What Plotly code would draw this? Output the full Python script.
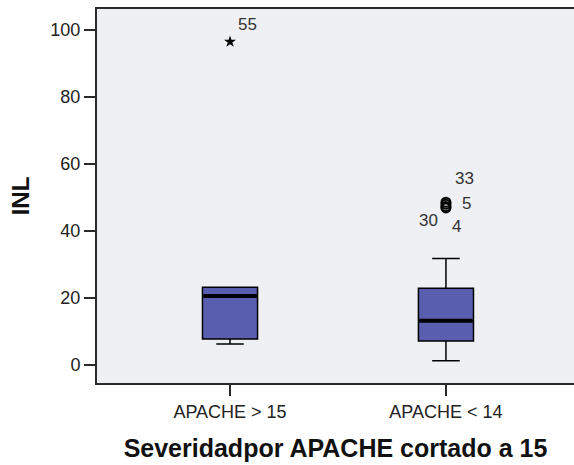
import plotly.graph_objects as go

# Summary statistics of INL by APACHE severity group
groups = ["APACHE > 15", "APACHE < 14"]
q1 = [7.8, 7.2]
median = [20.6, 13.2]
q3 = [23.2, 22.9]
lower_whisker = [6.3, 1.3]
upper_whisker = [23.2, 31.8]

# Extreme value (star) in the first group
extreme_group = [0]
extreme_value = [96.5]
extreme_case = ["55"]

# Outliers (open circles) in the second group
outlier_group = [1, 1, 1, 1]
outlier_value = [48.6, 48.0, 47.3, 46.9]
outlier_case = ["33", "5", "30", "4"]

# Label offsets (pixels) for the case numbers
extreme_shift = [(17, 17)]
outlier_shift = [(19, 24), (21, 1), (-17, -14), (11, -19)]

BOX_W = 0.255
FILL = "#5a5eae"
BG = "#eff0f3"
AX = "#2a2a2a"
FONT = "Arial, Liberation Sans, sans-serif"

fig = go.Figure()

for i, g in enumerate(groups):
    fig.add_trace(go.Box(
        x=[i], q1=[q1[i]], median=[median[i]], q3=[q3[i]],
        lowerfence=[lower_whisker[i]], upperfence=[upper_whisker[i]],
        width=BOX_W, whiskerwidth=0.5, fillcolor=FILL,
        line=dict(color="black", width=1.5), boxpoints=False,
        hoverinfo="skip", showlegend=False,
    ))
    # thick median bar
    fig.add_trace(go.Scatter(
        x=[i - BOX_W / 2 + 0.004, i + BOX_W / 2 - 0.004],
        y=[median[i], median[i]], mode="lines",
        line=dict(color="black", width=4), hoverinfo="skip", showlegend=False,
    ))

fig.add_trace(go.Scatter(
    x=extreme_group, y=extreme_value, mode="markers",
    marker=dict(symbol="star", size=9, color="black"),
    hoverinfo="skip", showlegend=False,
))
fig.add_trace(go.Scatter(
    x=outlier_group, y=outlier_value, mode="markers",
    marker=dict(symbol="circle-open", size=9, color="black", line=dict(width=2)),
    hoverinfo="skip", showlegend=False,
))

label_font = dict(family=FONT, size=17, color="#333")
for xg, yv, txt, (dx, dy) in zip(extreme_group + outlier_group,
                                  extreme_value + outlier_value,
                                  extreme_case + outlier_case,
                                  extreme_shift + outlier_shift):
    fig.add_annotation(x=xg, y=yv, text=txt, showarrow=False,
                       xshift=dx, yshift=dy, font=label_font)

fig.update_layout(
    width=574, height=465,
    margin=dict(l=97, r=0, t=9, b=82),
    paper_bgcolor="white", plot_bgcolor=BG,
    font=dict(family=FONT, color="#222"),
)
fig.update_xaxes(
    range=[-0.616, 1.593], tickvals=[0, 1], ticktext=groups,
    showgrid=False, zeroline=False, automargin=False,
    showline=True, linecolor=AX, linewidth=2, mirror=True,
    ticks="outside", ticklen=11, tickwidth=1.5, tickcolor=AX,
    tickfont=dict(size=18, color="#222"),
    title=dict(text="<b>Severidadpor APACHE cortado a 15</b>",
               font=dict(size=25, color="#111"), standoff=19),
)
fig.update_yaxes(
    range=[-5.37, 106.27], tickvals=[0, 20, 40, 60, 80, 100],
    showgrid=False, zeroline=False, automargin=False,
    showline=True, linecolor=AX, linewidth=2,
    ticks="outside", ticklen=11, tickwidth=1.5, tickcolor=AX,
    tickfont=dict(size=18, color="#222"),
    title=dict(text="<b>INL</b>", font=dict(size=24, color="#111"), standoff=14),
)

fig.write_html("out.html")
